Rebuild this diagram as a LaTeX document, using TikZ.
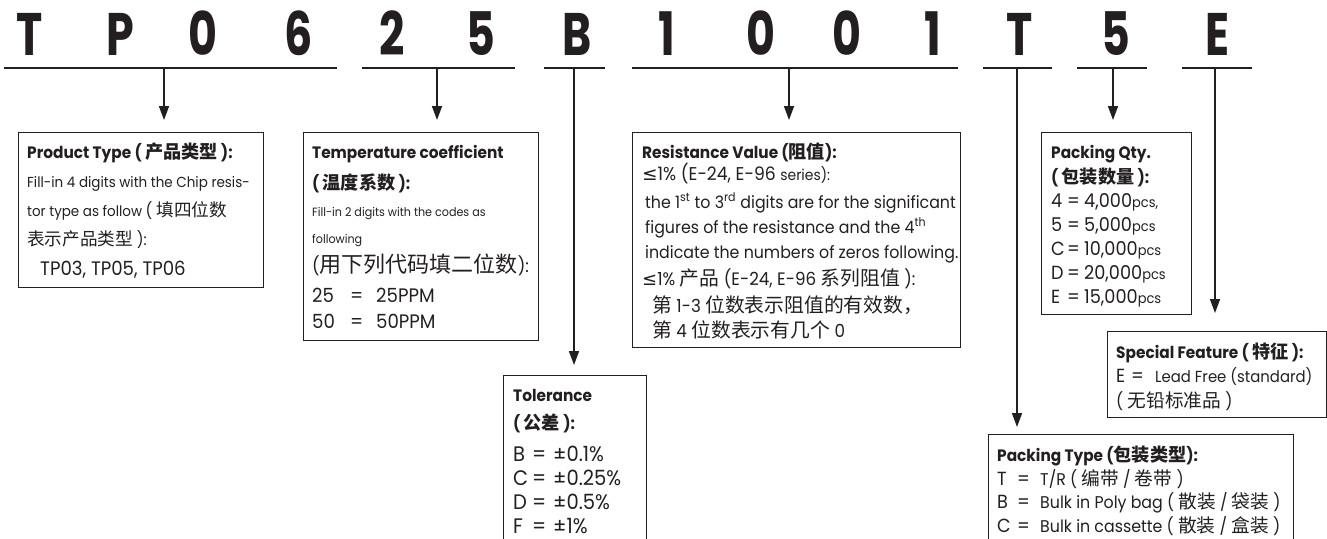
\documentclass[tikz,border=0pt]{standalone}
\usepackage{fontspec}
\setmainfont{Poppins}[FakeStretch=0.93]
\newfontfamily\zhfont{Noto Sans CJK SC}[Scale=1.1]
\newfontfamily\symfont{DejaVu Sans}
\newfontfamily\codefont{Poppins}[FakeStretch=0.74]
\usetikzlibrary{arrows.meta}
\definecolor{ink}{HTML}{231F20}
\newcommand\zh[1]{{\zhfont #1}}
\newcommand\fs[1]{\fontsize{#1}{#1}\selectfont}
\newcommand\boxtitle[1]{{\fs{16.5}\bfseries #1}}
\newcommand\lesym{{\symfont ≤}}
\newcommand\bodyfont[2]{\fontsize{#1}{#2}\selectfont\lineskiplimit=-100pt\relax}

\begin{document}
\begin{tikzpicture}[x=1pt,y=-1pt,color=ink,
  codechar/.style={font=\codefont\fontsize{60}{60}\selectfont\bfseries, anchor=base, inner sep=0pt},
  codeline/.style={line width=1.6pt},
  pointer/.style={line width=1.6pt, -{Triangle[length=14pt,width=10pt]}},
  infobox/.style={draw, line width=1pt, anchor=north west, inner sep=0pt},
  infotext/.style={anchor=base west, align=left, inner sep=0pt}]

\useasboundingbox (0,0) rectangle (1327,538);

% Code du produit
\node[codechar] (ch1) at (30,55) {T};
\node[codechar] (ch2) at (120,55) {P};
\node[codechar] (ch3) at (203,55) {0};
\node[codechar] (ch4) at (299,55) {6};
\node[codechar] (ch5) at (392,55) {2};
\node[codechar] (ch6) at (481,55) {5};
\node[codechar] (ch7) at (577,55) {B};
\node[codechar] (ch8) at (667,55) {1};
\node[codechar] (ch9) at (761,55) {0};
\node[codechar] (ch10) at (847,55) {0};
\node[codechar] (ch11) at (933,55) {1};
\node[codechar] (ch12) at (1020,55) {T};
\node[codechar] (ch13) at (1116,55) {5};
\node[codechar] (ch14) at (1217,55) {E};

% Traits sous les groupes
\draw[codeline] (4,68) -- (337,68);
\draw[codeline] (362,68) -- (515,68);
\draw[codeline] (544,68) -- (605,68);
\draw[codeline] (632,68) -- (958,68);
\draw[codeline] (983,68) -- (1052,68);
\draw[codeline] (1077,68) -- (1147,68);
\draw[codeline] (1182,68) -- (1252,68);

\coordinate (uType) at (164,68);
\coordinate (uTemp) at (437,68);
\coordinate (uTol) at (574,68);
\coordinate (uRes) at (789,68);
\coordinate (uPack) at (1017,68);
\coordinate (uQty) at (1113,68);
\coordinate (uFeat) at (1215,68);

% Cadres
\node[infobox, minimum width=245pt, minimum height=155pt] (typebox) at (18,132) {};
\node[infobox, minimum width=235pt, minimum height=208pt] (tempbox) at (303,132) {};
\node[infobox, minimum width=143pt, minimum height=180pt] (tolbox) at (503,375) {};
\node[infobox, minimum width=328pt, minimum height=215pt] (resbox) at (632,132) {};
\node[infobox, minimum width=150pt, minimum height=182pt] (qtybox) at (1041,132) {};
\node[infobox, minimum width=219pt, minimum height=86pt] (featbox) at (1107,331) {};
\node[infobox, minimum width=305pt, minimum height=120pt] (packbox) at (988,434) {};

% Textes (ancre sur la derniere ligne)
\node[infotext, font=\bodyfont{14.5}{29}] (typetext) at (27,275) {%
\boxtitle{Product Type ( \zh{产品类型} ):}\\
Fill-in 4 digits with the Chip resis-\\
tor type as follow {\fs{16}( \zh{填四位数}}\\
{\fs{16}\zh{表示产品类型} ):}\\[1pt]
\hspace*{13pt}{\fs{19.5}TP03, TP05, TP06}};

\node[infotext, font=\bodyfont{12}{27}] (temptext) at (312,328) {%
\boxtitle{Temperature coefficient}\\[4pt]
\boxtitle{( \zh{温度系数} ):}\\
Fill-in 2 digits with the codes as\\
following\\[2pt]
{\fs{18}(\zh{\fs{20}用下列代码填二位数}):}\\[3pt]
{\fs{19.5}\makebox[38pt][l]{25}\makebox[26pt][l]{=}25PPM}\\[-1pt]
{\fs{19.5}\makebox[38pt][l]{50}\makebox[26pt][l]{=}50PPM}};

\node[infotext, font=\bodyfont{21}{24}] (toltext) at (513,533) {%
\boxtitle{Tolerance}\\[4pt]
\boxtitle{( \zh{公差} ):}\\[8pt]
\makebox[19pt][l]{B}\makebox[21pt][l]{=}±0.1\%\\
\makebox[19pt][l]{C}\makebox[21pt][l]{=}±0.25\%\\
\makebox[19pt][l]{D}\makebox[21pt][l]{=}±0.5\%\\
\makebox[19pt][l]{F}\makebox[21pt][l]{=}±1\%};

\node[infotext, font=\bodyfont{17}{26}] (restext) at (642,337) {%
\boxtitle{Resistance Value (\zh{阻值}):}\\[-4pt]
{\fs{18.5}\lesym1\% (E-24, E-96 {\fs{15}series):}}\\[2pt]
\hspace*{3pt}the 1\textsuperscript{st} to 3\textsuperscript{rd} digits are for the significant\\[-1pt]
\hspace*{3pt}figures of the resistance and the 4\textsuperscript{th}\\[-1pt]
\hspace*{3pt}indicate the numbers of zeros following.\\[1pt]
{\fs{18}\lesym1\% \zh{产品} (E-24, E-96 \zh{系列阻值} ):}\\[1pt]
\hspace*{10pt}{\fs{18}\zh{第} 1-3 \zh{位数表示阻值的有效数，}}\\[-1pt]
\hspace*{10pt}{\fs{18}\zh{第} 4 \zh{位数表示有几个} 0}};

\node[infotext, font=\bodyfont{19}{24}] (qtytext) at (1051,303) {%
\boxtitle{Packing Qty.}\\[1pt]
\boxtitle{( \zh{包装数量} ):}\\
\makebox[16pt][l]{4}\makebox[17pt][l]{=}4,000{\fs{14}pcs,}\\
\makebox[16pt][l]{5}\makebox[17pt][l]{=}5,000{\fs{14}pcs}\\
\makebox[16pt][l]{C}\makebox[17pt][l]{=}10,000{\fs{14}pcs}\\
\makebox[16pt][l]{D}\makebox[17pt][l]{=}20,000{\fs{14}pcs}\\
\makebox[16pt][l]{E}\makebox[17pt][l]{=}15,000{\fs{14}pcs}};

\node[infotext, font=\bodyfont{16}{24.5}] (feattext) at (1116,407) {%
\boxtitle{Special Feature ( \zh{特征} ):}\\
{\fs{19}\makebox[15pt][l]{E}\makebox[24pt][l]{=}}Lead Free (standard)\\
{\fs{17}( \zh{无铅标准品} )}};

\node[infotext, font=\bodyfont{17}{23.5}] (packtext) at (997,532) {%
\boxtitle{Packing Type (\zh{包装类型}):}\\
{\fs{19}\makebox[20pt][l]{T}\makebox[23pt][l]{=}}T/R ( \zh{编带} / \zh{卷带} )\\
{\fs{19}\makebox[20pt][l]{B}\makebox[23pt][l]{=}}Bulk in Poly bag ( \zh{散装} / \zh{袋装} )\\
{\fs{19}\makebox[20pt][l]{C}\makebox[23pt][l]{=}}Bulk in cassette ( \zh{散装} / \zh{盒装} )};

% Fleches
\draw[pointer, shorten >=12pt] (uType) -- (uType |- typebox.north);
\draw[pointer, shorten >=12pt] (uTemp) -- (uTemp |- tempbox.north);
\draw[pointer, shorten >=10pt] (uTol) -- (uTol |- tolbox.north);
\draw[pointer, shorten >=12pt] (uRes) -- (uRes |- resbox.north);
\draw[pointer, shorten >=7pt] (uPack) -- (uPack |- packbox.north);
\draw[pointer, shorten >=12pt] (uQty) -- (uQty |- qtybox.north);
\draw[pointer, shorten >=18pt] (uFeat) -- (uFeat |- featbox.north);

\end{tikzpicture}
\end{document}
